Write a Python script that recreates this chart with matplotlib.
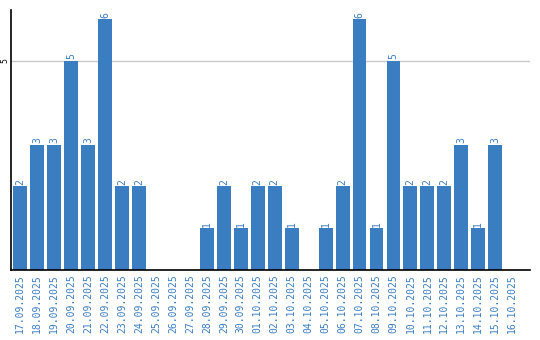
import matplotlib
matplotlib.use("Agg")
import matplotlib.pyplot as plt

dates = ["17.09.2025", "18.09.2025", "19.09.2025", "20.09.2025", "21.09.2025",
         "22.09.2025", "23.09.2025", "24.09.2025", "25.09.2025", "26.09.2025",
         "27.09.2025", "28.09.2025", "29.09.2025", "30.09.2025", "01.10.2025",
         "02.10.2025", "03.10.2025", "04.10.2025", "05.10.2025", "06.10.2025",
         "07.10.2025", "08.10.2025", "09.10.2025", "10.10.2025", "11.10.2025",
         "12.10.2025", "13.10.2025", "14.10.2025", "15.10.2025", "16.10.2025"]
values = [2, 3, 3, 5, 3, 6, 2, 2, 0, 0, 0, 1, 2, 1, 2, 2, 1, 0, 1, 2,
          6, 1, 5, 2, 2, 2, 3, 1, 3, 0]
yticks = [5]

blue = "#3b7dc1"
fig = plt.figure(figsize=(5.4, 3.4), dpi=100)
ax = fig.add_axes([11/540, 70/340, 519/540, 260/340])
x = list(range(len(dates)))
ax.bar(x, values, width=0.82, color=blue, zorder=2)
for xi, v in zip(x, values):
    if v > 0:
        ax.text(xi, v + 0.04, str(v), rotation=90, ha="center", va="bottom",
                color=blue, fontsize=7, family="DejaVu Sans Mono")
ax.set_xlim(-0.55, 30.05)
ax.set_ylim(0, 6.22)
ax.set_xticks(x)
ax.set_xticklabels(dates, rotation=90, color=blue, fontsize=7, family="DejaVu Sans Mono")
ax.set_yticks(yticks)
ax.set_yticklabels([str(t) for t in yticks], rotation=90, fontsize=5.5, va="center")
ax.tick_params(axis="both", length=0, pad=3)
ax.tick_params(axis="y", pad=1.5)
ax.yaxis.grid(True, color="#c8c8c8", linewidth=1, zorder=0)
ax.set_axisbelow(True)
for s in ["top", "right"]:
    ax.spines[s].set_visible(False)
ax.spines["left"].set_linewidth(1.2)
ax.spines["bottom"].set_linewidth(1.2)
fig.savefig("out.png", dpi=100)
